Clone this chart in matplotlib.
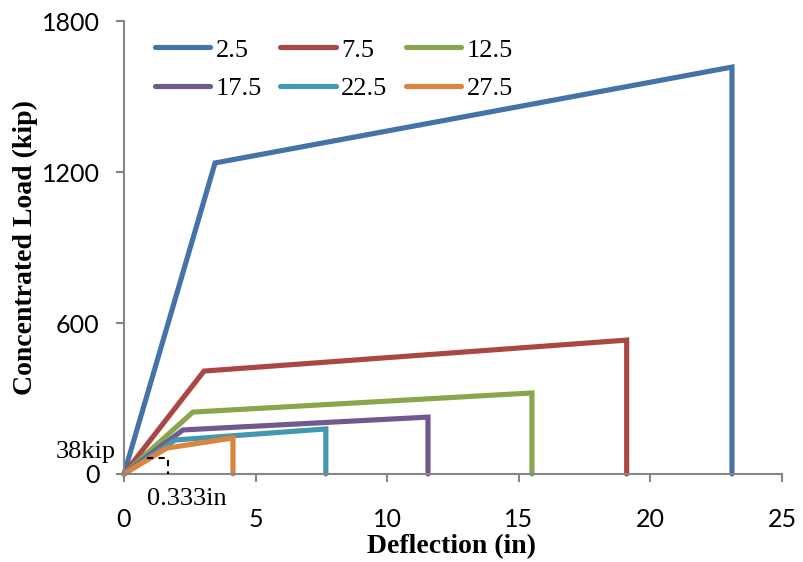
import matplotlib
matplotlib.use("Agg")
import matplotlib.pyplot as plt

# load-deflection curves, one per label
labels = ["2.5", "7.5", "12.5", "17.5", "22.5", "27.5"]
defl = [
    [0, 3.46, 23.1, 23.1],
    [0, 3.04, 19.1, 19.1],
    [0, 2.62, 15.5, 15.5],
    [0, 2.24, 11.55, 11.55],
    [0, 1.94, 7.67, 7.67],
    [0, 1.63, 4.14, 4.14],
]
load = [
    [0, 1236, 1617, 0],
    [0, 409, 532, 0],
    [0, 246, 322, 0],
    [0, 175, 226, 0],
    [0, 135, 179, 0],
    [0, 103, 143, 0],
]
colors = ["#4572A7", "#AA4643", "#89A54E", "#71588F", "#4198AF", "#DB843D"]

fig = plt.figure(figsize=(8.04, 5.62), dpi=100)
ax = fig.add_axes([0.1542, 0.1566, 0.8184, 0.806])

for x, y, c, lab in zip(defl, load, colors, labels):
    ax.plot(x, y, color=c, lw=3.7, label=lab, solid_capstyle="round",
            solid_joinstyle="miter", clip_on=False)

# dashed marker for the yield point annotation
ax.plot([0.86, 1.68, 1.68], [62, 62, 0], color="black", lw=1.5,
        ls=(0, (3, 2.5)), zorder=3, clip_on=False)
ax.text(-0.3, 87, "38kip", ha="right", va="center", fontsize=19,
        family="Liberation Serif", clip_on=False)
ax.text(2.39, -98, "0.333in", ha="center", va="center", fontsize=19,
        family="Liberation Serif", clip_on=False)

ax.set_xlim(0, 25)
ax.set_ylim(0, 1800)
ax.set_xticks([0, 5, 10, 15, 20, 25])
ax.set_yticks([0, 600, 1200, 1800])

for s in ["top", "right"]:
    ax.spines[s].set_visible(False)
for s in ["left", "bottom"]:
    ax.spines[s].set_color("#868686")
    ax.spines[s].set_linewidth(1.5)
ax.tick_params(colors="#868686", width=1.5, length=5.5, labelcolor="black",
               labelsize=18)
ax.tick_params(axis="y", pad=12)
ax.tick_params(axis="x", pad=19)
for t in ax.get_xticklabels() + ax.get_yticklabels():
    t.set_family("Lato")

ax.set_xlabel("Deflection (in)", fontsize=20, fontweight="bold",
              family="Liberation Serif")
ax.set_ylabel("Concentrated Load (kip)", fontsize=20, fontweight="bold",
              family="Liberation Serif")
ax.xaxis.set_label_coords(0.498, -0.133)
ax.yaxis.set_label_coords(-0.131, 0.5)

# legend filled row by row like the original
h, l = ax.get_legend_handles_labels()
order = [0, 3, 1, 4, 2, 5]
ax.legend([h[i] for i in order], [l[i] for i in order], ncol=3,
          loc="upper left", bbox_to_anchor=(0.047, 0.962),
          borderaxespad=0, borderpad=0, frameon=False,
          handlelength=2.1, handletextpad=0.2, columnspacing=0.7,
          labelspacing=0.57, prop={"family": "Liberation Serif", "size": 19})

fig.savefig("out.png", dpi=100)
